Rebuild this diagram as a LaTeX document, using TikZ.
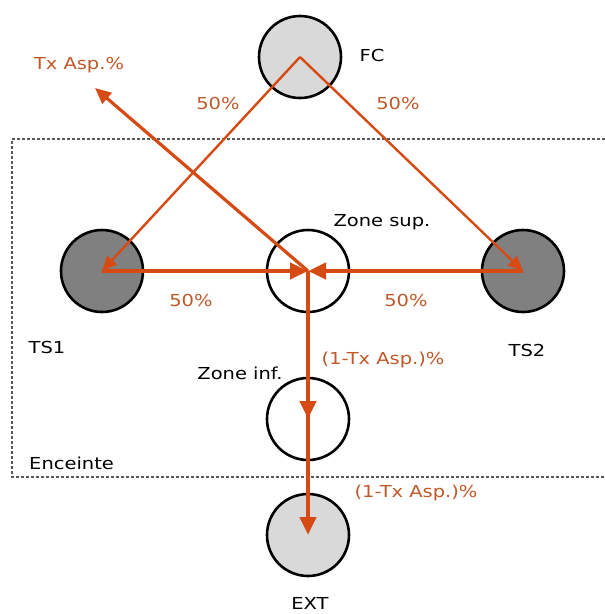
\documentclass[tikz,border=0pt]{standalone}
\usepackage{fontspec}
\setmainfont{DejaVu Sans}[FakeStretch=1.18]
\usetikzlibrary{arrows.meta,positioning}
\definecolor{flow}{RGB}{214,74,20}
\definecolor{flowtext}{RGB}{192,88,40}
\definecolor{darkzone}{RGB}{128,128,128}
\definecolor{lightzone}{RGB}{217,217,217}

\begin{document}
\begin{tikzpicture}[
    x=1pt, y=-1pt,
    zone/.style={circle, draw, line width=2.6pt, minimum size=82pt, inner sep=0pt},
    flowthin/.style={-{Triangle[length=15pt,width=13pt]}, line width=2.4pt, color=flow},
    flowmid/.style={-{Triangle[length=16pt,width=14pt]}, line width=3.2pt, color=flow},
    flowthick/.style={-{Triangle[length=18pt,width=16pt]}, line width=4.6pt, color=flow},
    flowline/.style={line width=4.6pt, color=flow},
    lbl/.style={font=\fontsize{16.5}{19}\selectfont, inner sep=0pt},
    pct/.style={lbl, text=flowtext},
    enclosure/.style={dashed, dash pattern=on 3pt off 2pt, line width=1.2pt, color=black!65},
  ]
  \useasboundingbox (0,0) rectangle (605,614);

  % === Enceinte (dashed boundary) ===
  \draw[enclosure] (605,139) -- (12,139) -- (12,477) -- (605,477);
  \node[lbl, anchor=west] (enceinte) at (29,463) {Enceinte};

  % === Zones ===
  \node[zone, fill=lightzone] (fc) at (300,57) {};
  \node[zone, fill=darkzone] (ts1) at (102,271) {};
  \node[zone, fill=white] (zsup) at (308,271) {};
  \node[zone, fill=darkzone] (ts2) at (523,271) {};
  \node[zone, fill=white] (zinf) at (308,419) {};
  \node[zone, fill=lightzone] (ext) at (308,535) {};

  % === Zone labels ===
  \node[lbl] at (372,55) {FC};
  \node[lbl] at (47,347) {TS1};
  \node[lbl] at (527,350) {TS2};
  \node[lbl] at (382,222) {Zone sup.};
  \node[lbl] at (240,373) {Zone inf.};
  \node[lbl] at (310,603) {EXT};

  % === Flows ===
  \coordinate (txend) at (95,88);
  \draw[flowthin] (fc.center) -- (ts1.center);
  \draw[flowthin] (fc.center) -- (ts2.center);
  \draw[flowmid] (zsup.center) -- (txend);
  \draw[flowthick] (ts1.center) -- (zsup.center);
  \draw[flowthick] (ts2.center) -- (zsup.center);
  % outflow: line runs on through zone inf.
  \draw[flowline] (zsup.center) -- (zinf.center);
  \draw[flowthick] ([yshift=1pt]zinf.center) -- (zinf.center);
  \draw[flowthick] (zinf.center) -- (ext.center);

  % === Flow labels ===
  \node[pct] at (79,65) {Tx Asp.\%};
  \node[pct] at (218,103) {50\%};
  \node[pct] at (398,103) {50\%};
  \node[pct] at (191,300) {50\%};
  \node[pct] at (406,300) {50\%};
  \node[pct] at (383,360) {(1-Tx Asp.)\%};
  \node[pct] at (416,493) {(1-Tx Asp.)\%};

\end{tikzpicture}
\end{document}
